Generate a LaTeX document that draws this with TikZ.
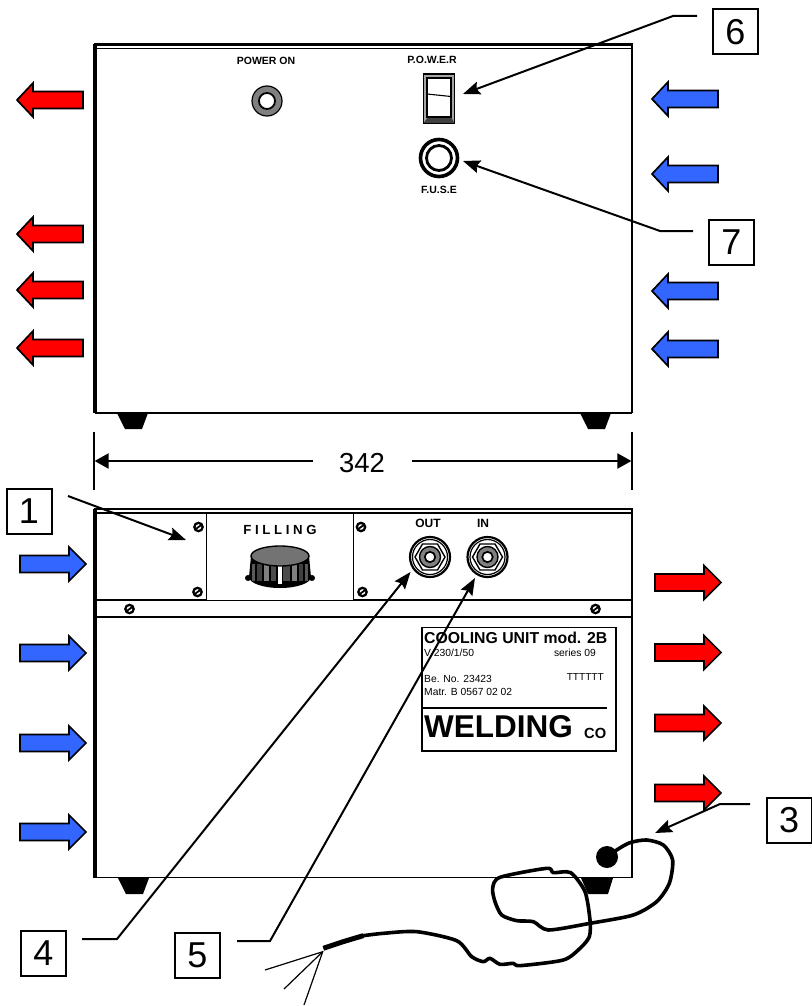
\documentclass[tikz,border=0pt]{standalone}
\usepackage{fontspec}
\setmainfont{Liberation Sans}
\usetikzlibrary{arrows.meta,calc}
\definecolor{arrowblue}{HTML}{3366FF}
\definecolor{arrowred}{HTML}{FF0000}
\newcommand{\fsz}[1]{\fontsize{#1}{#1}\selectfont}
\newcommand{\arrowL}[3]{\draw[bigarrow,fill=#3] (#1,#2) -- ++(16,-17) -- ++(0,8.5) -- ++(50,0) -- ++(0,17) -- ++(-50,0) -- ++(0,8.5) -- cycle;}
\newcommand{\arrowR}[3]{\draw[bigarrow,fill=#3] (#1,#2-8.5) -- ++(49,0) -- ++(0,-8.5) -- ++(17,17) -- ++(-17,17) -- ++(0,-8.5) -- ++(-49,0) -- cycle;}
\newcommand{\screw}[2]{\fill[black] (#1,#2) circle (5.4);\fill[white] (#1,#2) circle (2.8);\draw[line width=1.8pt] (#1-3.5,#2+2.5) -- (#1+3.5,#2-2.5);}
\newcommand{\jack}[2]{%
  \draw[line width=2.2pt,fill=white] (#1,#2) circle (20);
  \draw[line width=1.2pt] (#1,#2) circle (17.5);
  \draw[line width=1.4pt,fill=white] (#1-15,#2) -- (#1-7.5,#2-13) -- (#1+7.5,#2-13) -- (#1+15,#2) -- (#1+7.5,#2+13) -- (#1-7.5,#2+13) -- cycle;
  \draw[line width=1.4pt,fill=black!50] (#1,#2) circle (10.5);
  \draw[line width=1.7pt,fill=white] (#1,#2) circle (5.2);}
\tikzset{
  x=1pt,y=-1pt,
  bigarrow/.style={draw=black,line width=1.7pt,line join=miter},
  numbox/.style={draw=black,line width=2pt,fill=white,minimum width=45pt,minimum height=45pt,inner sep=0pt,font=\fsz{36}},
  leader/.style={line width=2pt,-{Stealth[length=17pt,width=13pt,inset=2.5pt]}},
  dimline/.style={line width=2pt,-{Triangle[length=14pt,width=15pt]}},
  heavy/.style={line width=3.4pt},
  medium/.style={line width=1.9pt},
  thinl/.style={line width=1.5pt},
  foot/.style={fill=black},
  lab/.style={inner sep=0pt},
  blab/.style={inner sep=0pt,font=\bfseries\fsz{10.5}},
  cord/.style={line width=3.6pt,line join=round,line cap=round},
}
\begin{document}
\begin{tikzpicture}
\useasboundingbox (0,0) rectangle (811,1006);
% upper unit
\fill[foot] (117,413) -- (148,413) -- (142,429) -- (125,429) -- cycle;
\fill[foot] (580,413) -- (611,413) -- (605,429) -- (588,429) -- cycle;
\draw[medium] (95,413) -- (632,413);
\draw[heavy] (95,44) -- (95,413);
\draw[line width=2.6pt] (632,44) -- (632,413);
\draw[line width=2.6pt] (94,44.5) -- (633,44.5);
\draw[medium] (95,48.5) -- (632,48.5);
\node[blab] (lpower) at (266,61) {POWER ON};
\node[blab] (lsw) at (432,60) {P.O.W.E.R};
\node[blab] (lfuse) at (439,189.5) {F.U.S.E};
% lamp
\draw[line width=1.2pt,fill=black!50] (267,101) circle (15);
\draw[line width=1.8pt,fill=white] (267,101) circle (8);
% switch
\draw[line width=1.6pt,fill=black!35] (423.5,74) rectangle (454.5,123);
\fill[black!75] (423.5,123) -- (428,117) -- (451,117) -- (454.5,123) -- cycle;
\draw[line width=1.2pt,fill=white] (427,78) rectangle (451,117);
\draw[line width=1.1pt] (427,94) -- (451,96.5);
% fuse
\draw[line width=3.6pt] (439,158) circle (18.5);
\draw[line width=2.8pt,fill=white] (439,158) circle (12.5);
% dimension
\draw[line width=1.5pt] (94,432) -- (94,490);
\draw[line width=1.5pt] (632,432) -- (632,490);
\node[lab,font=\fsz{27.5}] (dim) at (362,463) {342};
\coordinate (dl) at (94.6,461);
\coordinate (dr) at (631.4,461);
\coordinate (dla) at (313,461);
\coordinate (dra) at (412,461);
\draw[dimline] (dla) -- (dl);
\draw[dimline] (dra) -- (dr);
% lower unit
\fill[foot] (118,878) -- (149,878) -- (143,894) -- (126,894) -- cycle;
\fill[foot] (581,878) -- (613,878) -- (608,894) -- (588,894) -- cycle;
\draw[medium] (95,877.5) -- (632,877.5);
\draw[heavy] (95,509) -- (95,878);
\draw[line width=2.6pt] (632,509) -- (632,878);
\draw[medium] (94,509) -- (633,509);
\draw[medium] (95,513) -- (632,513);
\draw[medium] (95,600) -- (632,600);
\draw[medium] (95,617) -- (632,617);
% filling panel
\draw[thinl,fill=white] (206.5,513) rectangle (353.5,600.5);
\node[lab,font=\bfseries\fsz{13.2}] (lfill) at (280,530) {F I L L I N G};
% knob
\fill[black] (249,577) -- (251,556) -- (309,556) -- (311,577) arc[start angle=0,end angle=-180,x radius=31,y radius=-11] -- cycle;
\fill[black] (248,578) circle (3); \fill[black] (312,578) circle (3);
\foreach \xa/\xb/\sh in {252/255/65,257/262/75,264/269/50,271/276/70,283/290/70,292/297/50,299/303/75,305/308/65}{
  \fill[black!\sh] (\xa,564) rectangle (\xb,581);
}
\fill[white] (277.5,564) rectangle (281.5,584);
\draw[line width=1.4pt,fill=black!55] (280,556) ellipse (29 and 10);
% screws
\screw{198.5}{527}\screw{197.5}{592}\screw{361}{527}\screw{362.5}{592}\screw{129.5}{609}\screw{595.5}{609}
% jacks
\jack{430}{557}\jack{487.5}{557}
\node[lab,font=\bfseries\fsz{12}] (lout) at (428,523.5) {OUT};
\node[lab,font=\bfseries\fsz{12}] (lin) at (483,523.5) {IN};
% nameplate
\draw[line width=1.9pt,fill=white] (422,627.5) rectangle (616,751);
\node[lab,anchor=base west,font=\bfseries\fsz{15.8}] (p1) at (424,643) {COOLING UNIT mod. 2B};
\node[lab,anchor=base west,font=\fsz{10.3}] (p2) at (424,656.5) {V 230/1/50};
\node[lab,anchor=base east,font=\fsz{10.3}] (p3) at (596,656.5) {series 09};
\node[lab,anchor=base west,font=\fsz{10.3}] (p4) at (424,682) {Be. No. 23423};
\node[lab,anchor=base east,font=\fsz{10.1}] (p5) at (604,680.5) {TTTTTT};
\node[lab,anchor=base west,font=\fsz{10.3}] (p6) at (424,695) {Matr. B 0567 02 02};
\draw[line width=1.5pt] (423,708) -- (607,708);
\node[lab,anchor=base west,font=\bfseries\fsz{31.5}] (p7) at (424,737.5) {WELDING};
\node[lab,anchor=base west,font=\bfseries\fsz{14.7}] (p8) at (584,738.5) {CO};
% airflow arrows upper
\arrowL{17}{100}{arrowred}
\arrowL{17}{234}{arrowred}
\arrowL{17}{290}{arrowred}
\arrowL{17}{348}{arrowred}
\arrowL{652}{99}{arrowblue}
\arrowL{652}{174}{arrowblue}
\arrowL{652}{291}{arrowblue}
\arrowL{652}{349}{arrowblue}
% airflow arrows lower
\arrowR{20}{564}{arrowblue}
\arrowR{20}{653}{arrowblue}
\arrowR{20}{743}{arrowblue}
\arrowR{20}{832}{arrowblue}
\arrowR{655}{582.5}{arrowred}
\arrowR{655}{652.5}{arrowred}
\arrowR{655}{723}{arrowred}
\arrowR{655}{793}{arrowred}
% number boxes
\node[numbox] (n1) at (29,511.5) {1};
\node[numbox] (n3) at (789,820.5) {3};
\node[numbox] (n4) at (43.5,953.5) {4};
\node[numbox] (n5) at (197.5,955) {5};
\node[numbox] (n6) at (735.5,32) {6};
\node[numbox] (n7) at (731.5,242.5) {7};
% leader targets and bends
\coordinate (a1) at (68,496);  \coordinate (t1) at (186,540);
\coordinate (a3) at (750,804); \coordinate (b3) at (720,804); \coordinate (t3) at (655,833);
\coordinate (a4) at (82,939);  \coordinate (b4) at (117,939); \coordinate (t4) at (410.5,572);
\coordinate (a5) at (237,941); \coordinate (b5) at (270,941); \coordinate (t5) at (475,578);
\coordinate (a6) at (697,16);  \coordinate (b6) at (673,16);  \coordinate (t6) at (463,94);
\coordinate (a7) at (693,231); \coordinate (b7) at (660,231); \coordinate (t7) at (463,161);
\draw[leader] (a1) -- (t1);
\draw[leader] (a3) -- (b3) -- (t3);
\draw[leader] (a4) -- (b4) -- (t4);
\draw[leader] (a5) -- (b5) -- (t5);
\draw[leader] (a6) -- (b6) -- (t6);
\draw[leader] (a7) -- (b7) -- (t7);
% cord
\fill[black] (607,857) circle (11);
\fill[white] (607,857) circle (.7);
\begin{scope}[x=.33333pt,y=-.33333pt,shift={(750,2460)}]
\draw[cord] plot[smooth,tension=.45] coordinates {(1070,112) (1100,90) (1140,68) (1190,60) (1240,75) (1268,120) (1258,190) (1220,245) (1150,285) (1020,310) (895,330) (850,305) (800,302) (755,285) (735,245) (728,205) (750,172) (890,145) (910,158) (962,158) (1005,215) (1020,300) (1018,350) (990,385) (940,420) (810,437) (790,430) (750,433) (720,415) (700,425) (665,410) (620,362) (500,335) (400,340) (340,347)};
\draw[line width=5pt,line cap=butt] plot[smooth,tension=.45] coordinates {(340,347) (280,365) (220,385)};
\end{scope}
\coordinate (w0) at (322.7,951.7);
\coordinate (w1) at (265,970);
\coordinate (w2) at (284,989);
\coordinate (w3) at (304,1005);
\draw[line width=1.2pt] (w1) -- (w0) -- (w3);
\draw[line width=1.2pt] (w2) -- (w0);
\end{tikzpicture}
\end{document}
